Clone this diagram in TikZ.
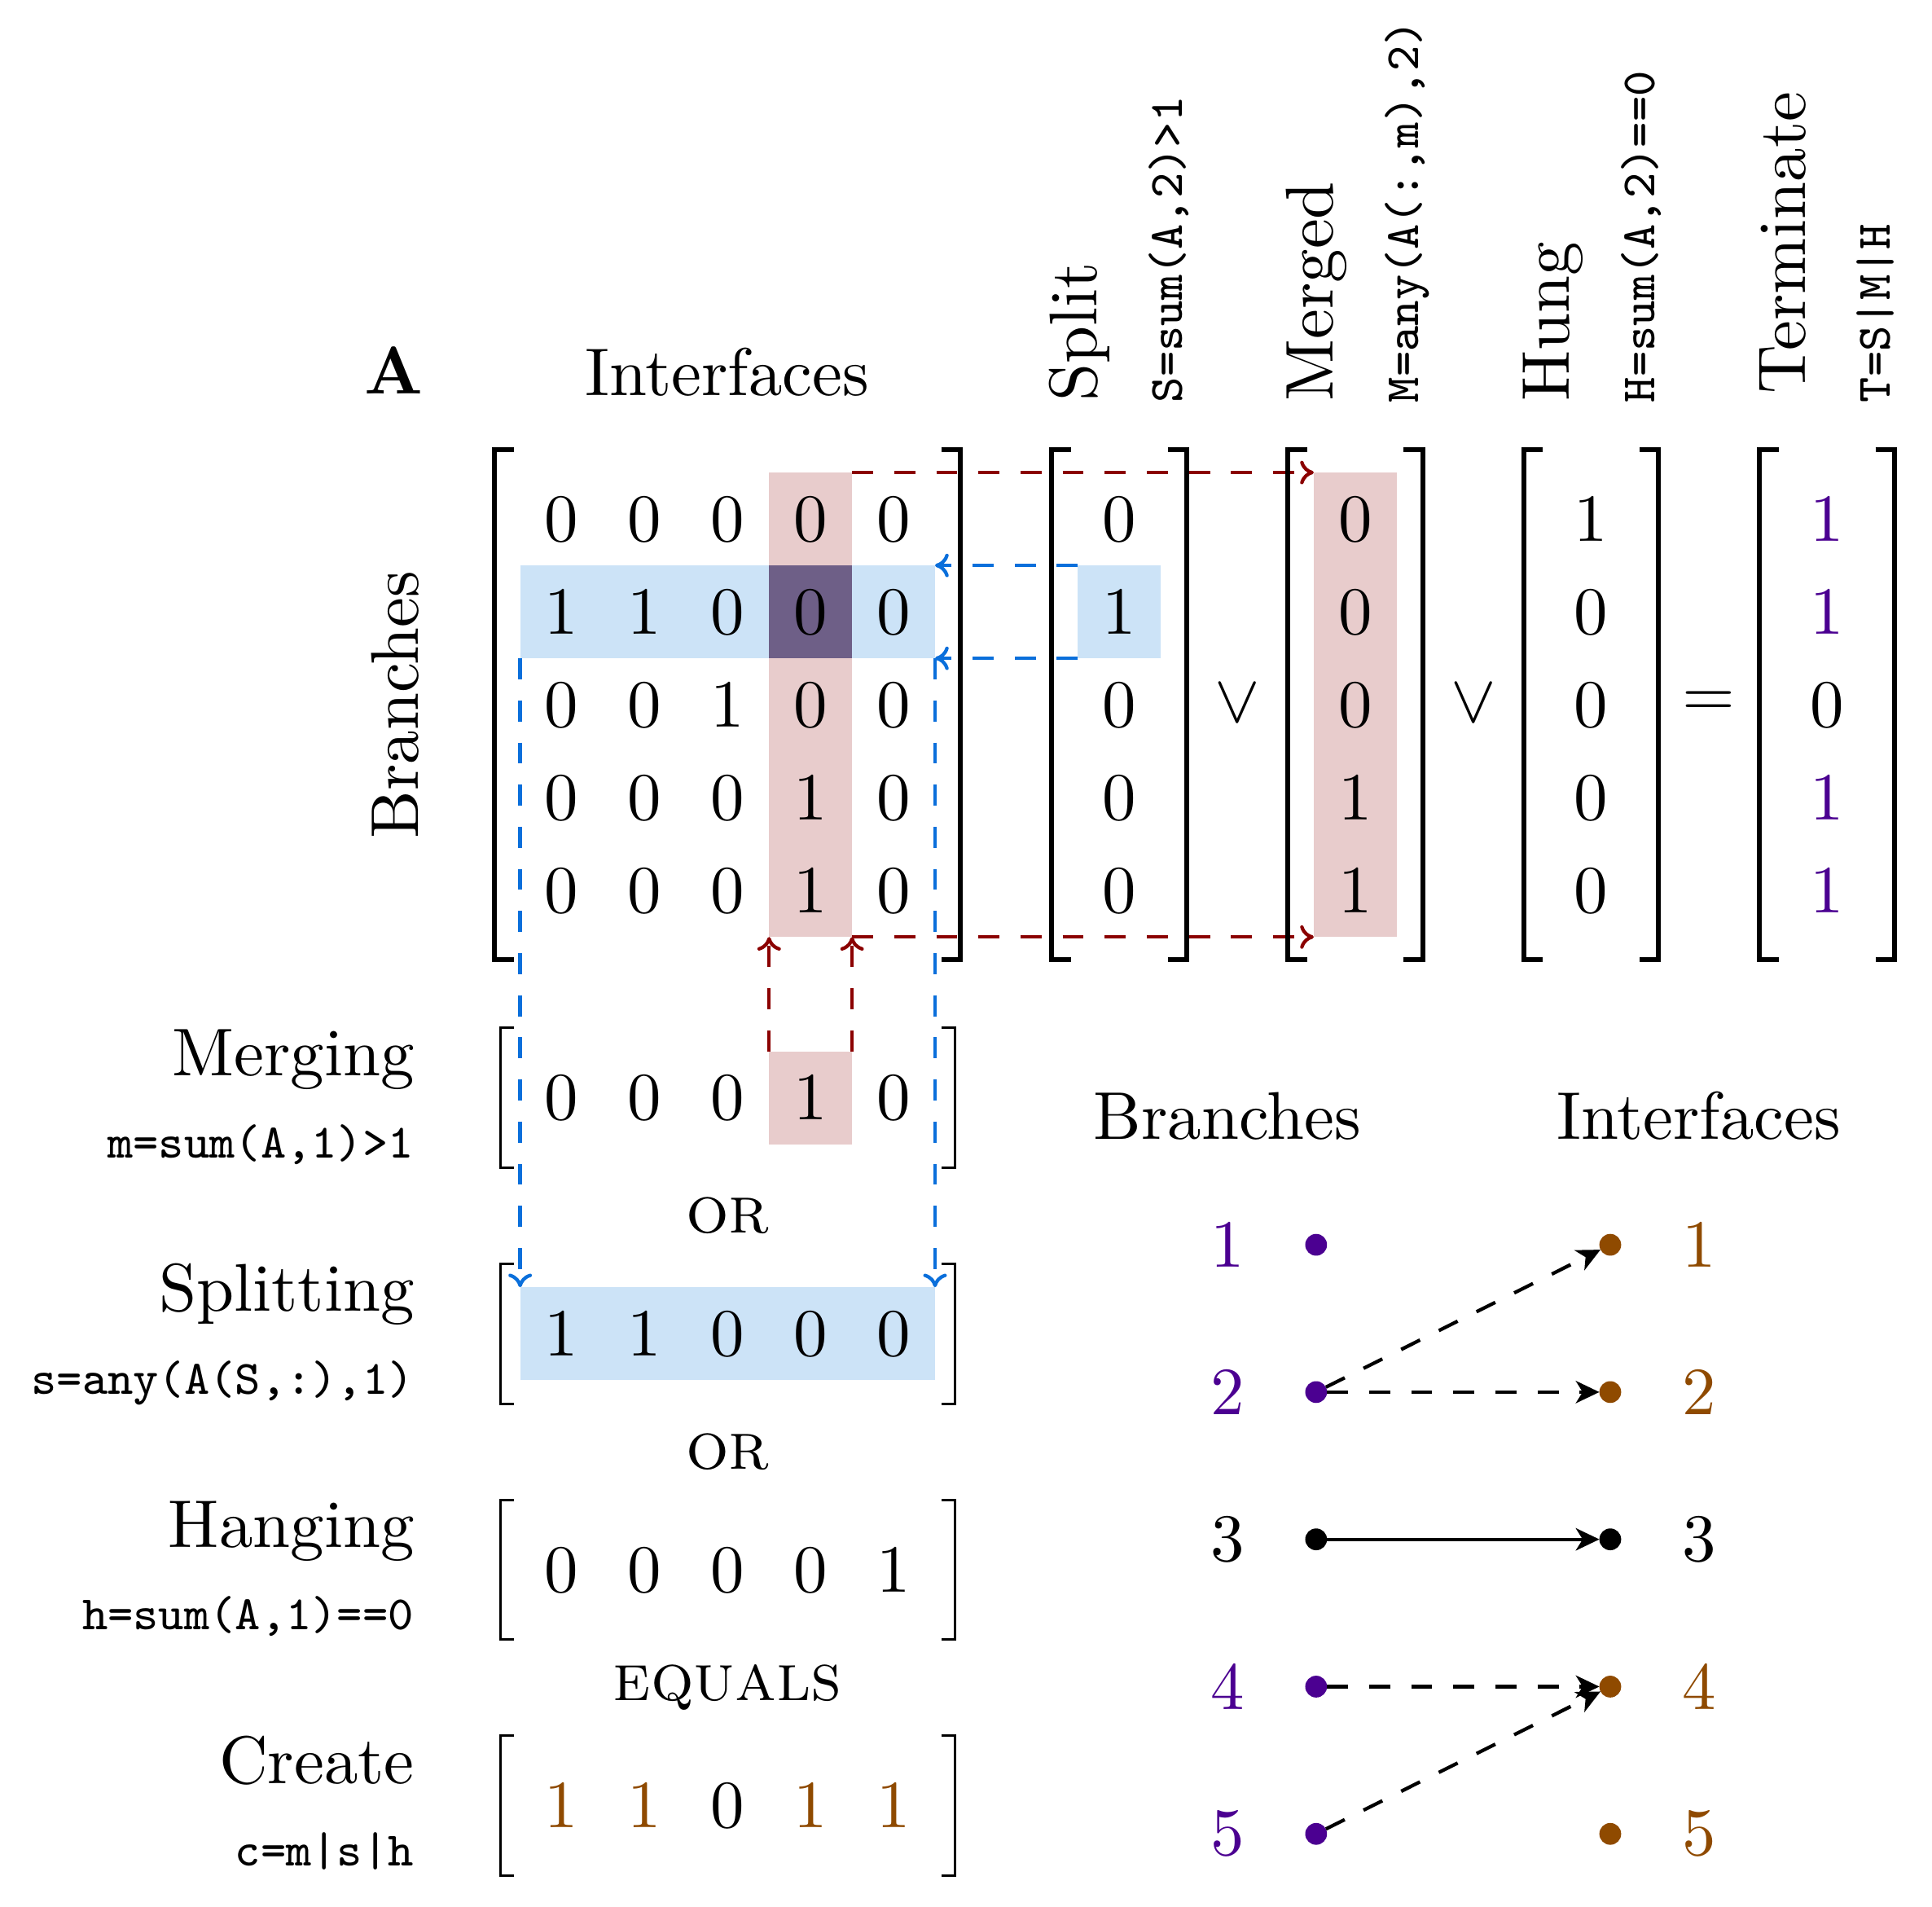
\documentclass[tikz,border=0pt]{standalone}
\usetikzlibrary{arrows.meta}
\definecolor{hlpink}{RGB}{232,204,204}
\definecolor{hlblue}{RGB}{204,227,247}
\definecolor{hldark}{RGB}{110,95,135}
\definecolor{lnblue}{RGB}{10,111,219}
\definecolor{lnred}{RGB}{139,0,0}
\definecolor{bpurple}{RGB}{75,0,145}
\definecolor{ibrown}{RGB}{143,74,0}
\newcommand{\drawbrk}[6]{%
  \draw[#1] ({#2+#6},#4) -- (#2,#4) -- (#2,#5) -- ({#2+#6},#5);
  \draw[#1] ({#3-#6},#4) -- (#3,#4) -- (#3,#5) -- ({#3-#6},#5);}
\begin{document}
\begin{tikzpicture}[x=0.2pt,y=-0.2pt,
  every node/.style={inner sep=0pt, outer sep=0pt},
  lbl/.style={font=\fontsize{10.9}{13}\selectfont},
  code/.style={font=\fontsize{7.75}{9}\selectfont\ttfamily},
  digit/.style={font=\fontsize{10.9}{13}\selectfont, anchor=base},
  thickbr/.style={line width=0.8pt},
  thinbr/.style={line width=0.4pt},
  hl/.style={minimum width=13.4pt, minimum height=15pt},
  bluedash/.style={draw=lnblue, line width=0.56pt, dash pattern=on 3.4pt off 3.4pt,
    -{Computer Modern Rightarrow[length=2.2pt,width=3.8pt]}},
  reddash/.style={draw=lnred, line width=0.56pt, dash pattern=on 3.4pt off 3.4pt,
    -{Computer Modern Rightarrow[length=2.2pt,width=3.8pt]}},
  dot/.style={circle, minimum size=3.52pt},
  link/.style={line width=0.56pt, -{Stealth[length=3.8pt,width=3.6pt,inset=1.1pt]}},
  linkdash/.style={link, dash pattern=on 3.4pt off 3.4pt},
]
\useasboundingbox (0,0) rectangle (1560,1539.6);

% ---------- highlights ----------
\node[hl, fill=hlpink, minimum height=75pt] (Acol) at (654.5,569) {};
\node[hl, fill=hlblue, minimum width=67pt] (Arow) at (587.5,494) {};
\node[hl, fill=hldark] (Adark) at (654.5,494) {};
\node[hl, fill=hlblue] (Scell) at (903.8,494) {};
\node[hl, fill=hlpink, minimum height=75pt] (Mcol) at (1094.3,569) {};
\node[hl, fill=hlpink] (mcell) at (654.5,886.3) {};
\node[hl, fill=hlblue, minimum width=67pt] (srow) at (587.5,1076.8) {};

% ---------- headings ----------
\node[lbl, anchor=base] (tA) at (318,318.3) {\bfseries A};
\node[lbl, anchor=base] (tInt) at (587,319) {Interfaces};
\node[lbl, rotate=90, anchor=base] (tBr) at (338,569) {Branches};

\node[lbl, rotate=90, anchor=base west] (tSplit) at (885.8,324) {Split};
\node[code, rotate=90, anchor=base west] (cSplit) at (954.8,325) {S=sum(A,2)>1};
\node[lbl, rotate=90, anchor=base west] (tMerged) at (1076.3,324) {Merged};
\node[code, rotate=90, anchor=base west] (cMerged) at (1145.3,325) {M=any(A(:,m),2)};
\node[lbl, rotate=90, anchor=base west] (tHung) at (1266.8,324) {Hung};
\node[code, rotate=90, anchor=base west] (cHung) at (1335.8,325) {H=sum(A,2)==0};
\node[lbl, rotate=90, anchor=base west] (tTerm) at (1457.5,318) {Terminate};
\node[code, rotate=90, anchor=base west] (cTerm) at (1526.3,325) {T=S|M|H};

% ---------- dashed connectors ----------
\draw[reddash] (Acol.north east) -- (Mcol.north west);
\draw[reddash] (Acol.south east) -- (Mcol.south west);
\draw[reddash] (mcell.north west) -- (Acol.south west);
\draw[reddash] (mcell.north east) -- (Acol.south east);
\draw[bluedash] (Scell.north west) -- (Arow.north east);
\draw[bluedash] (Scell.south west) -- (Arow.south east);
\draw[bluedash] (Arow.south west) -- (srow.north west);
\draw[bluedash] (Arow.south east) -- (srow.north east);

% ---------- matrix A ----------
\foreach \r/\vals in {1/{0,0,0,0,0},2/{1,1,0,0,0},3/{0,0,1,0,0},4/{0,0,0,1,0},5/{0,0,0,1,0}}{
  \foreach \v [count=\c] in \vals {
    \node[digit] (A-\r-\c) at ({453.5+67*(\c-1)},{437+75*(\r-1)}) {\v};
  }
}
\drawbrk{thickbr}{399.5}{775.5}{363.1}{774.9}{15.5}

% ---------- vectors ----------
\foreach \k/\nm/\vals in {0/S/{0,1,0,0,0},1/M/{0,0,0,1,1},2/H/{1,0,0,0,0}}{
  \foreach \v [count=\r] in \vals {
    \node[digit] (\nm-\r) at ({903.8+190.5*\k},{437+75*(\r-1)}) {\v};
  }
  \drawbrk{thickbr}{903.8+190.5*\k-54.5}{903.8+190.5*\k+54.5}{363.1}{774.9}{15.5}
}
\node[digit, text=bpurple] (T-1) at (1475.3,437) {1};
\node[digit, text=bpurple] (T-2) at (1475.3,512) {1};
\node[digit] (T-3) at (1475.3,587) {0};
\node[digit, text=bpurple] (T-4) at (1475.3,662) {1};
\node[digit, text=bpurple] (T-5) at (1475.3,737) {1};
\drawbrk{thickbr}{1420.8}{1529.8}{363.1}{774.9}{15.5}

\node[lbl] (or1) at (999.3,568) {$\vee$};
\node[lbl] (or2) at (1189.8,568) {$\vee$};
\node[lbl, anchor=base] (eq) at (1379.7,578.6) {$=$};

% ---------- lower row vectors ----------
\foreach \k/\nm/\word/\cd/\vals in {
   0/mg/Merging/{m=sum(A,1)>1}/{0,0,0,1,0},
   1/sp/Splitting/{s=any(A(S,:),1)}/{1,1,0,0,0},
   2/hg/Hanging/{h=sum(A,1)==0}/{0,0,0,0,1}}{
  \foreach \v [count=\c] in \vals {
    \node[digit] (\nm-\c) at ({453.5+67*(\c-1)},{886.3+190.5*\k+18}) {\v};
  }
  \drawbrk{thinbr}{404}{771}{886.3+190.5*\k-56.4}{886.3+190.5*\k+56.4}{10.8}
  \node[lbl, anchor=base east] (\nm-w) at (334.5,{886.3+190.5*\k-18}) {\word};
  \node[code, anchor=base east] (\nm-c) at (334,{886.3+190.5*\k+48.5}) {\cd};
}
\node[digit, text=ibrown] (cr-1) at (453.5,1475.8) {1};
\node[digit, text=ibrown] (cr-2) at (520.5,1475.8) {1};
\node[digit] (cr-3) at (587.5,1475.8) {0};
\node[digit, text=ibrown] (cr-4) at (654.5,1475.8) {1};
\node[digit, text=ibrown] (cr-5) at (721.5,1475.8) {1};
\drawbrk{thinbr}{404}{771}{1401.4}{1514.2}{10.8}
\node[lbl, anchor=base east] (cr-w) at (334.5,1439.8) {Create};
\node[code, anchor=base east] (cr-c) at (334,1506.3) {c=m|s|h};

\node[lbl] (w1) at (587.5,981.55) {\textsc{or}};
\node[lbl] (w2) at (587.5,1172.05) {\textsc{or}};
\node[lbl] (w3) at (587.5,1362.55) {\textsc{equals}};

% ---------- branch / interface graph ----------
\node[lbl, anchor=base] (hB) at (991,919.6) {Branches};
\node[lbl, anchor=base] (hI) at (1371.6,919.6) {Interfaces};
\foreach \i/\col in {1/bpurple,2/bpurple,3/black,4/bpurple,5/bpurple}{
  \node[lbl, text=\col] (bn\i) at (991.4,{1005+118.9*(\i-1)}) {\i};
  \node[dot, fill=\col] (b\i) at (1062.7,{1005+118.9*(\i-1)}) {};
}
\foreach \i/\col in {1/ibrown,2/ibrown,3/black,4/ibrown,5/ibrown}{
  \node[dot, fill=\col] (i\i) at (1300.2,{1005+118.9*(\i-1)}) {};
  \node[lbl, text=\col] (in\i) at (1372,{1005+118.9*(\i-1)}) {\i};
}
\draw[linkdash] (b2) -- (i1);
\draw[linkdash] (b2) -- (i2);
\draw[link] (b3) -- (i3);
\draw[linkdash] (b4) -- (i4);
\draw[linkdash] (b5) -- (i4);
\end{tikzpicture}
\end{document}
